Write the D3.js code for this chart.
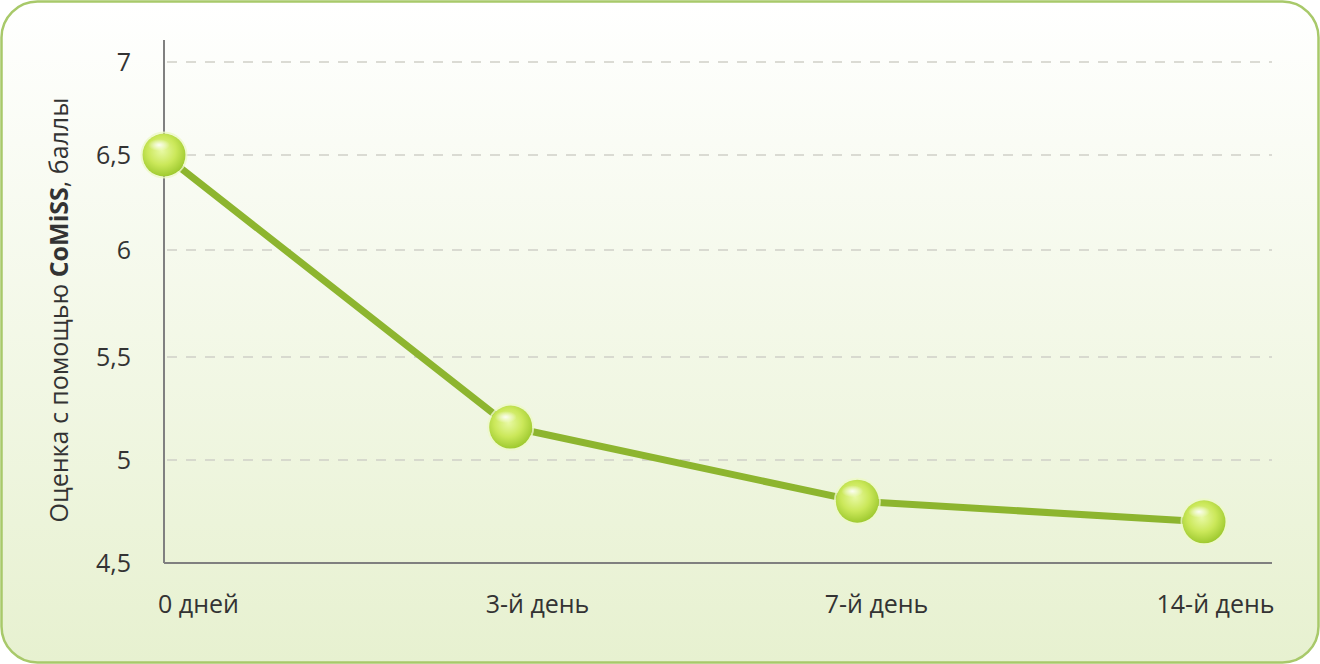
<!DOCTYPE html>
<html>
<head>
<meta charset="utf-8">
<script src="https://cdn.jsdelivr.net/npm/d3@7"></script>
<style>
  body { margin: 0; background: #fff; }
  svg { display: block; font-family: "Open Sans", "Noto Sans", sans-serif; }
</style>
</head>
<body>
<svg></svg>
<script>
const DAYS = ["0 дней", "3-й день", "7-й день", "14-й день"];
const SCORES = [6.5, 5.16, 4.8, 4.7];
const Y_TICKS = [4.5, 5, 5.5, 6, 6.5, 7];

const WIDTH = 1320;
const HEIGHT = 664;

const svg = d3.select("svg").attr("width", WIDTH).attr("height", HEIGHT);
const defs = svg.append("defs");

// background gradient
const bg = defs.append("linearGradient")
  .attr("id", "bg").attr("x1", 0).attr("y1", 0).attr("x2", 0).attr("y2", 1);
bg.append("stop").attr("offset", "0%").attr("stop-color", "#ffffff");
bg.append("stop").attr("offset", "100%").attr("stop-color", "#e7f1d0");

// glossy ball
const ball = defs.append("radialGradient")
  .attr("id", "ball").attr("cx", "45%").attr("cy", "40%").attr("r", "60%");
ball.append("stop").attr("offset", "0%").attr("stop-color", "#e8f9a4");
ball.append("stop").attr("offset", "55%").attr("stop-color", "#cbe85a");
ball.append("stop").attr("offset", "100%").attr("stop-color", "#9fca30");

const glare = defs.append("radialGradient")
  .attr("id", "glare").attr("cx", "50%").attr("cy", "50%").attr("r", "50%");
glare.append("stop").attr("offset", "0%").attr("stop-color", "#ffffff").attr("stop-opacity", 0.9);
glare.append("stop").attr("offset", "100%").attr("stop-color", "#ffffff").attr("stop-opacity", 0);

svg.append("rect")
  .attr("x", 1.5).attr("y", 1.5)
  .attr("width", WIDTH - 3).attr("height", HEIGHT - 3)
  .attr("rx", 36).attr("ry", 36)
  .attr("fill", "url(#bg)")
  .attr("stroke", "#a8c96a")
  .attr("stroke-width", 2.5);

const X_LEFT = 164;
const X_RIGHT = 1272;

const xScale = d3.scalePoint().domain(DAYS).range([164, 1204]);
const labelScale = d3.scalePoint().domain(DAYS).range([198, 1215]);
// the original grid is not evenly spaced, so the scale is piecewise
const yScale = d3.scaleLinear().domain(Y_TICKS).range([563, 460, 357, 250, 155, 62]);

const chart = svg.append("g");

//grid lines
chart.selectAll(".grid")
  .data(Y_TICKS.slice(1))
  .enter()
  .append("line")
  .attr("x1", X_LEFT).attr("x2", X_RIGHT)
  .attr("y1", (d) => yScale(d)).attr("y2", (d) => yScale(d))
  .attr("stroke", "#cfcfc8")
  .attr("stroke-width", 1.5)
  .attr("stroke-dasharray", "10,9")
  .attr("stroke-dashoffset", -3);

//y axis
const leftAxis = d3.axisLeft(yScale)
  .tickValues(Y_TICKS)
  .tickSize(0)
  .tickPadding(33)
  .tickFormat((d) => String(d).replace(".", ","));

chart.append("g")
  .attr("transform", `translate(${X_LEFT},0)`)
  .call(leftAxis)
  .call((g) => g.select(".domain").remove())
  .selectAll("text")
  .attr("font-size", 25)
  .attr("fill", "#333")
  .attr("font-family", "Open Sans, Noto Sans, sans-serif");

chart.append("line")
  .attr("x1", X_LEFT).attr("x2", X_LEFT)
  .attr("y1", 40).attr("y2", yScale(4.5))
  .attr("stroke", "#808080").attr("stroke-width", 2);

//x axis
chart.append("line")
  .attr("x1", X_LEFT).attr("x2", X_RIGHT)
  .attr("y1", yScale(4.5)).attr("y2", yScale(4.5))
  .attr("stroke", "#808080").attr("stroke-width", 2);

const bottomAxis = d3.axisBottom(labelScale).tickSize(0).tickPadding(32);
chart.append("g")
  .attr("transform", `translate(0,${yScale(4.5)})`)
  .call(bottomAxis)
  .call((g) => g.select(".domain").remove())
  .selectAll("text")
  .attr("font-size", 25)
  .attr("fill", "#333")
  .attr("font-family", "Open Sans, Noto Sans, sans-serif");

//y axis title
const title = svg.append("text")
  .attr("transform", "translate(68,310) rotate(-90)")
  .attr("text-anchor", "middle")
  .attr("font-size", 25)
  .attr("fill", "#333");
title.append("tspan").text("Оценка с помощью ");
title.append("tspan").attr("font-weight", "bold").text("CoMiSS");
title.append("tspan").text(", баллы");

//line
const line = d3.line()
  .x((d, i) => xScale(DAYS[i]))
  .y((d) => yScale(d));

chart.append("path")
  .datum(SCORES)
  .attr("d", line)
  .attr("fill", "none")
  .attr("stroke", "#8db52f")
  .attr("stroke-width", 7)
  .attr("stroke-linejoin", "round");

//markers
const markers = chart.selectAll(".marker")
  .data(SCORES)
  .enter()
  .append("g")
  .classed("marker", true)
  .attr("transform", (d, i) => `translate(${xScale(DAYS[i])},${yScale(d)})`);

markers.append("circle")
  .attr("r", 22.5)
  .attr("fill", "none")
  .attr("stroke", "#eef9c8")
  .attr("stroke-width", 2)
  .attr("opacity", 0.8);

markers.append("circle")
  .attr("r", 21.5)
  .attr("fill", "url(#ball)");

markers.append("ellipse")
  .attr("cx", -5).attr("cy", -10)
  .attr("rx", 11).attr("ry", 6)
  .attr("fill", "url(#glare)");
</script>
</body>
</html>
